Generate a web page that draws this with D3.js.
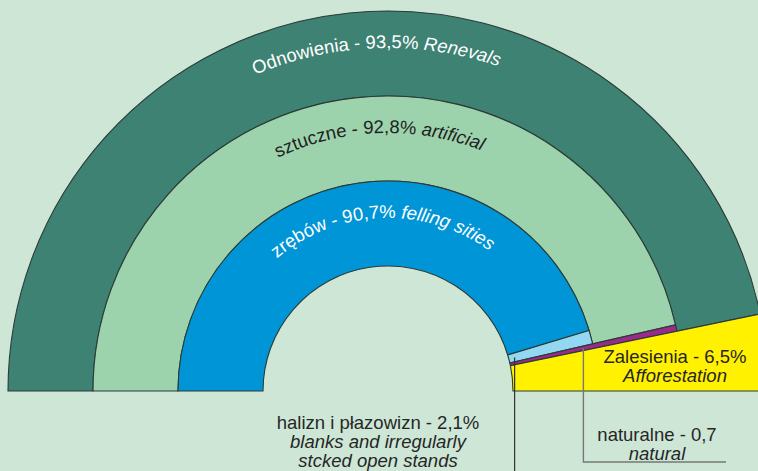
<!DOCTYPE html>
<html>
<head>
<meta charset="utf-8">
<script src="https://cdn.jsdelivr.net/npm/d3@7"></script>
<style>
  body { margin: 0; background: #cde6d6; }
  svg { display: block; font-family: "Liberation Sans", Arial, sans-serif; }
</style>
</head>
<body>
<div id="viz"></div>
<script>
// shares in % of the whole area
var topNames = ['Odnowienia', 'Zalesienia'];
var topEn = ['Renevals', 'Afforestation'];
var topValues = [93.5, 6.5];

var renewNames = ['sztuczne', 'naturalne'];
var renewEn = ['artificial', 'natural'];
var renewValues = [92.8, 0.7];

var artNames = ['zrębów', 'halizn i płazowizn'];
var artEn = ['felling sities', 'blanks and irregularly|stcked open stands'];
var artValues = [90.7, 2.1];

var chart = { width: 758, height: 471, cx: 388, cy: 391 };

var colors = {
  'Odnowienia': '#3d8273',
  'sztuczne': '#9cd3ad',
  'naturalne': '#9b2a8d',
  'zrębów': '#0095d6',
  'halizn i płazowizn': '#93d8f2',
  'Zalesienia': '#fff100'
};

var pct = d3.scaleLinear().domain([0, 100]).range([-Math.PI / 2, Math.PI / 2]);
var ring = d3.scaleLinear().domain([0, 3]).range([125, 380]);

// segments: start/end in %, rings from inner(0) to outer(3)
var segs = [
  { name: topNames[0], p0: 0, p1: topValues[0], r0: 2, r1: 3 },
  { name: renewNames[0], p0: 0, p1: renewValues[0], r0: 1, r1: 2 },
  { name: artNames[0], p0: 0, p1: artValues[0], r0: 0, r1: 1 },
  { name: artNames[1], p0: artValues[0], p1: artValues[0] + artValues[1], r0: 0, r1: 1 },
  { name: renewNames[1], p0: renewValues[0], p1: renewValues[0] + renewValues[1], r0: 0, r1: 2 },
  { name: topNames[1], p0: topValues[0], p1: topValues[0] + topValues[1], r0: 0, r1: 3 }
];

var arc = d3.arc()
  .startAngle(d => pct(d.p0))
  .endAngle(d => pct(d.p1))
  .innerRadius(d => ring(d.r0))
  .outerRadius(d => ring(d.r1));

var svg = d3.select('#viz').append('svg')
  .attr('width', chart.width)
  .attr('height', chart.height);

svg.append('rect').attr('width', chart.width).attr('height', chart.height).attr('fill', '#cde6d6');

var g = svg.append('g').attr('transform', 'translate(' + chart.cx + ',' + chart.cy + ')');

g.selectAll('path.seg')
  .data(segs)
  .enter()
  .append('path')
  .attr('class', 'seg')
  .attr('d', arc)
  .attr('fill', d => colors[d.name])
  .attr('stroke', '#2c3b36')
  .attr('stroke-width', 1.1);

// curved labels
var fmt = v => String(v).replace('.', ',') + '%';
var curved = [
  { id: 'tp0', name: topNames[0], en: topEn[0], v: topValues[0], ring: 2, fill: '#ffffff' },
  { id: 'tp1', name: renewNames[0], en: renewEn[0], v: renewValues[0], ring: 1, fill: '#222222' },
  { id: 'tp2', name: artNames[0], en: artEn[0], v: artValues[0], ring: 0, fill: '#ffffff' }
];
var shift = -2 * Math.PI / 180;
var defs = svg.append('defs');
curved.forEach(function(c) {
  var r = (ring(c.ring) + ring(c.ring + 1)) / 2 + 5.5;
  var p = d3.path();
  p.arc(0, 0, r, Math.PI + shift, 2 * Math.PI + shift);
  defs.append('path').attr('id', c.id).attr('d', p.toString());
  var t = g.append('text')
    .attr('font-size', 18.5)
    .attr('fill', c.fill)
    .append('textPath')
    .attr('href', '#' + c.id)
    .attr('startOffset', '50%')
    .attr('text-anchor', 'middle');
  t.append('tspan').text(c.name + ' - ' + fmt(c.v) + ' ');
  t.append('tspan').attr('font-style', 'italic').text(c.en);
});

// leader lines
function polar(pc, r) {
  var a = pct(pc);
  return [chart.cx + r * Math.sin(a), chart.cy - r * Math.cos(a)];
}
var hal = polar(artValues[0] + artValues[1] / 2, 131);
svg.append('line')
  .attr('x1', hal[0]).attr('y1', hal[1])
  .attr('x2', hal[0]).attr('y2', chart.height)
  .attr('stroke', '#333').attr('stroke-width', 1.2);

var nat = polar(renewValues[0] + renewValues[1] / 2, 200);
svg.append('polyline')
  .attr('points', [[nat[0], nat[1]], [nat[0], 462], [726, 462]].map(p => p.join(',')).join(' '))
  .attr('fill', 'none')
  .attr('stroke', '#777').attr('stroke-width', 1.4);

// straight labels
function label(x, y, lines) {
  var t = svg.append('text').attr('font-size', 18.5).attr('fill', '#262626').attr('text-anchor', 'middle');
  lines.forEach(function(l, i) {
    t.append('tspan').attr('x', x).attr('y', y + i * 19)
      .attr('font-style', l.it ? 'italic' : null)
      .text(l.s);
  });
}
label(675, 363, [{ s: topNames[1] + ' - ' + fmt(topValues[1]) }, { s: topEn[1], it: true }]);
label(657, 441, [{ s: renewNames[1] + ' - ' + String(renewValues[1]).replace('.', ',') }, { s: renewEn[1], it: true }]);
label(378, 429, [{ s: artNames[1] + ' - ' + fmt(artValues[1]) }].concat(artEn[1].split('|').map(s => ({ s: s, it: true }))));
</script>
</body>
</html>
